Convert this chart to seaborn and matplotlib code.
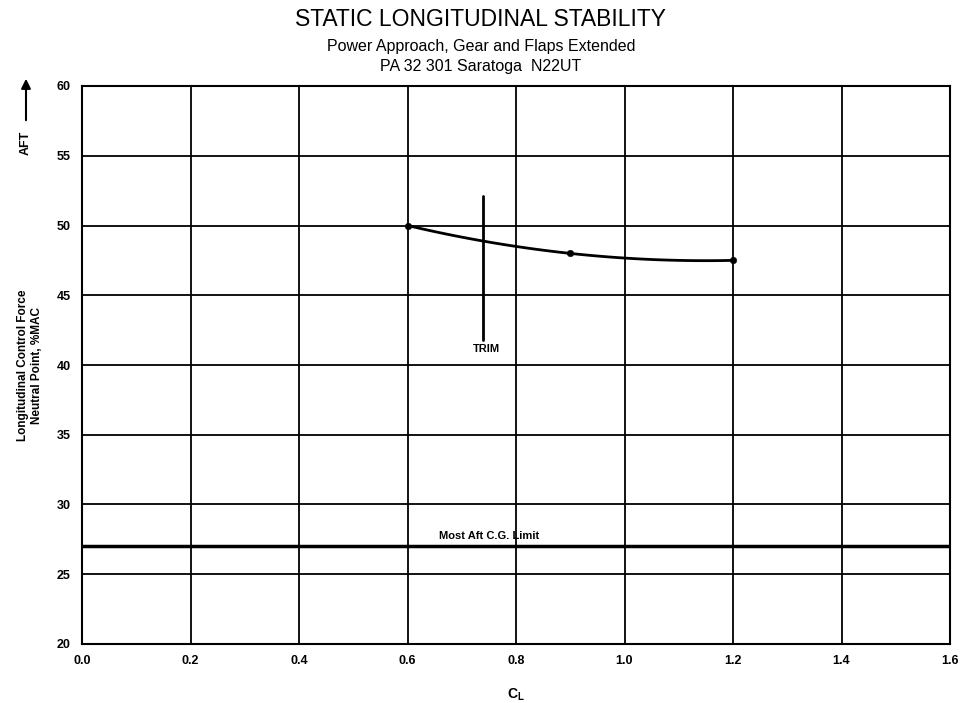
import numpy as np
import pandas as pd
import matplotlib
matplotlib.use("Agg")
import matplotlib.pyplot as plt
import seaborn as sns

# Flight test data: lift coefficient vs. neutral point (%MAC)
cl_values = [0.6, 0.9, 1.2]
neutral_point = [50.0, 48.0, 47.5]

# Trim marker and aft CG limit
trim_cl = 0.74
trim_range = [41.8, 52.1]
aft_cg_limit = 27.0

x_ticks = [0.0, 0.2, 0.4, 0.6, 0.8, 1.0, 1.2, 1.4, 1.6]
y_ticks = [20, 25, 30, 35, 40, 45, 50, 55, 60]

sns.set_style("white")
plt.rcParams["font.family"] = ["Liberation Sans", "DejaVu Sans"]
plt.rcParams["text.color"] = "black"
plt.rcParams["axes.labelcolor"] = "black"
plt.rcParams["xtick.color"] = "black"
plt.rcParams["ytick.color"] = "black"

fig = plt.figure(figsize=(9.62, 7.03), dpi=100)
ax = fig.add_axes([82 / 962, 1 - 644 / 703, 868 / 962, 558 / 703])

# Smooth fairing through the measured points
coef = np.polyfit(cl_values, neutral_point, 2)
xs = np.linspace(cl_values[0], cl_values[-1], 60)
fair = pd.DataFrame({"CL": xs, "NP": np.polyval(coef, xs)})
pts = pd.DataFrame({"CL": cl_values, "NP": neutral_point})

sns.lineplot(data=fair, x="CL", y="NP", ax=ax, color="black", linewidth=2.0)
sns.scatterplot(data=pts, x="CL", y="NP", ax=ax, color="black", s=22,
                edgecolor="black", zorder=5)

ax.set_xlim(0.0, 1.6)
ax.set_ylim(20, 60)
ax.set_xticks(x_ticks)
ax.set_yticks(y_ticks)
ax.set_xticklabels([f"{v:.1f}" for v in x_ticks], fontsize=9, fontweight="bold")
ax.set_yticklabels([str(v) for v in y_ticks], fontsize=9, fontweight="bold")
ax.tick_params(axis="both", direction="out", length=4, width=1, color="black",
               labelcolor="black", pad=4)

ax.grid(True, color="black", linewidth=1.3)
ax.set_axisbelow(True)
for s in ax.spines.values():
    s.set_color("black")
    s.set_linewidth(1.5)

# Trim line
ax.plot([trim_cl, trim_cl], trim_range, color="black", linewidth=2.0)
ax.text(trim_cl + 0.005, trim_range[0] - 0.3, "TRIM", ha="center", va="top",
        fontsize=8, fontweight="bold", color="black")

# Most aft CG limit
ax.axhline(aft_cg_limit, color="black", linewidth=2.5)
ax.text(0.75, aft_cg_limit + 0.35, "Most Aft C.G. Limit", ha="center", va="bottom",
        fontsize=8, fontweight="bold", color="black")

ax.set_xlabel(r"$\mathregular{C_L}$", fontsize=10, fontweight="bold", labelpad=14,
              color="black")
ax.set_ylabel("Longitudinal Control Force\nNeutral Point, %MAC", fontsize=8.5,
              fontweight="bold", labelpad=10, color="black")

# Titles
fig.text(0.5, 1 - 19 / 703, "STATIC LONGITUDINAL STABILITY", ha="center",
         va="center", fontsize=16.5, color="black")
fig.text(0.5, 1 - 46 / 703, "Power Approach, Gear and Flaps Extended", ha="center",
         va="center", fontsize=11.5, color="black")
fig.text(0.5, 1 - 66 / 703, "PA 32 301 Saratoga  N22UT", ha="center",
         va="center", fontsize=11.5, color="black")

# AFT direction arrow
fig.text(26 / 962, 1 - 143 / 703, "AFT", rotation=90, ha="center", va="center",
         fontsize=9, fontweight="bold", color="black")
fig.add_artist(matplotlib.patches.FancyArrowPatch(
    (26 / 962, 1 - 123 / 703), (26 / 962, 1 - 76 / 703),
    transform=fig.transFigure, arrowstyle="-|>", mutation_scale=14,
    color="black", linewidth=1.5))

fig.savefig("out.png", dpi=100)
